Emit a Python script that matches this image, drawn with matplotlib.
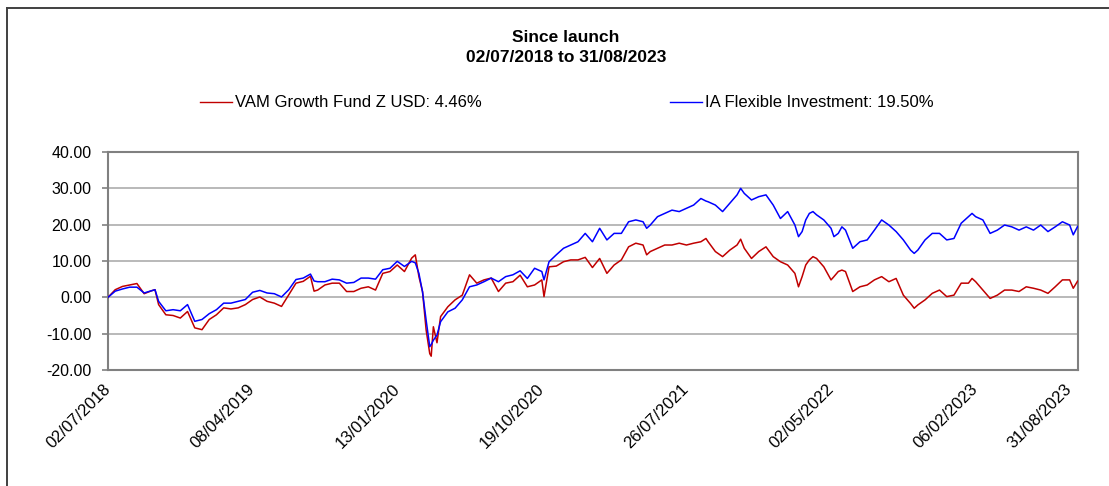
import matplotlib
matplotlib.use("Agg")
import matplotlib.pyplot as plt
from matplotlib.lines import Line2D
from matplotlib.ticker import FormatStrFormatter

plt.rcParams['font.family'] = ['Liberation Sans', 'DejaVu Sans']

# trading-day index since launch (02/07/2018)
days = [0, 10, 20, 30, 40, 50, 60, 65, 70, 80, 90, 100, 110, 120, 130, 140, 150, 160, 170, 180,
        190, 200, 210, 220, 230, 240, 250, 260, 270, 280, 285, 290, 300, 310, 320, 330, 340, 350, 360, 370,
        380, 390, 400, 410, 420, 425, 430, 435, 440, 445, 447, 450, 455, 460, 470, 480, 490, 500, 510, 520,
        530, 540, 550, 560, 570, 580, 590, 600, 603, 610, 620, 630, 640, 650, 660, 670, 680, 690, 700, 710,
        720, 730, 740, 745, 750, 760, 770, 780, 790, 800, 810, 820, 827, 830, 840, 850, 860, 870, 875, 880,
        890, 900, 910, 920, 930, 940, 950, 955, 960, 965, 970, 975, 980, 990, 1000, 1004, 1010, 1015, 1020, 1030,
        1040, 1050, 1060, 1070, 1080, 1090, 1100, 1110, 1115, 1120, 1130, 1140, 1150, 1160, 1170, 1180, 1190, 1195, 1200, 1210,
        1220, 1230, 1240, 1250, 1260, 1270, 1280, 1290, 1300, 1310, 1320, 1330, 1335, 1341]

ia_flex = [0.0, 1.7, 2.3, 2.8, 2.8, 1.2, 1.8, 2.1, -1.1, -3.7, -3.4, -3.7, -2.0, -6.6, -6.1, -4.5, -3.4, -1.6, -1.6, -1.1,
           -0.6, 1.4, 1.9, 1.2, 1.0, 0.1, 2.1, 4.9, 5.3, 6.4, 4.5, 4.3, 4.3, 5.0, 4.8, 3.9, 4.1, 5.3, 5.3, 5.0,
           7.6, 8.0, 9.9, 8.5, 9.9, 9.5, 6.6, 1.5, -6.3, -13.6, -13.0, -11.8, -10.4, -6.7, -4.0, -3.0, -0.7, 2.9, 3.4, 4.3,
           5.3, 4.3, 5.7, 6.2, 7.3, 5.2, 8.0, 7.1, 4.8, 9.8, 11.7, 13.5, 14.4, 15.3, 17.6, 15.3, 19.0, 15.8, 17.6, 17.6,
           20.8, 21.3, 20.8, 19.0, 19.9, 22.2, 23.1, 24.0, 23.6, 24.5, 25.4, 27.2, 26.5, 26.3, 25.4, 23.6, 25.9, 28.2, 30.0, 28.6,
           26.8, 27.7, 28.2, 25.4, 21.7, 23.6, 19.9, 16.7, 18.1, 21.3, 23.1, 23.6, 22.7, 21.3, 19.0, 16.7, 17.6, 19.4, 18.5, 13.5,
           15.3, 15.8, 18.5, 21.3, 19.9, 18.1, 15.8, 13.0, 12.1, 13.0, 15.8, 17.6, 17.6, 15.8, 16.2, 20.4, 22.2, 23.1, 22.2, 21.3,
           17.6, 18.5, 19.9, 19.4, 18.5, 19.4, 18.5, 19.9, 18.1, 19.4, 20.8, 19.9, 17.2, 19.5]

vam_z = [0.0, 2.1, 3.0, 3.4, 3.8, 1.0, 1.8, 2.1, -2.0, -4.8, -5.0, -5.7, -3.9, -8.4, -8.9, -6.1, -4.8, -2.9, -3.2, -2.9,
         -2.0, -0.6, 0.1, -1.1, -1.6, -2.5, 0.7, 3.9, 4.4, 5.8, 1.7, 2.0, 3.4, 3.9, 3.9, 1.6, 1.6, 2.5, 2.9, 2.0,
         6.6, 7.1, 8.9, 7.1, 10.8, 11.7, 5.7, 1.6, -9.0, -15.5, -16.2, -8.1, -12.5, -5.3, -2.6, -0.7, 0.6, 6.2, 3.9, 4.8,
         5.3, 1.6, 3.9, 4.3, 6.1, 2.9, 3.4, 4.8, 0.2, 8.4, 8.6, 9.8, 10.3, 10.3, 11.0, 8.2, 10.7, 6.6, 8.9, 10.3,
         13.9, 14.9, 14.4, 11.7, 12.6, 13.5, 14.4, 14.4, 14.9, 14.4, 14.9, 15.3, 16.2, 15.3, 12.6, 11.2, 13.0, 14.4, 16.0, 13.5,
         10.7, 12.6, 13.9, 11.2, 9.8, 8.9, 6.6, 2.9, 5.7, 8.9, 10.3, 11.2, 10.7, 8.4, 4.8, 5.7, 7.1, 7.5, 7.1, 1.6,
         2.9, 3.4, 4.8, 5.7, 4.3, 5.2, 0.6, -1.7, -3.0, -2.1, -0.7, 1.1, 2.0, 0.2, 0.6, 3.9, 3.9, 5.2, 4.3, 2.0,
         -0.3, 0.6, 2.0, 2.0, 1.6, 2.9, 2.5, 2.0, 1.1, 2.9, 4.8, 4.8, 2.5, 4.46]

tick_days = [0, 200, 400, 600, 800, 1000, 1200, 1330]
tick_labels = ['02/07/2018', '08/04/2019', '13/01/2020', '19/10/2020',
               '26/07/2021', '02/05/2022', '06/02/2023', '31/08/2023']

W, H = 1109, 486
fig = plt.figure(figsize=(W / 100, H / 100), dpi=100)
ax = fig.add_axes([108 / W, (H - 370) / H, 969.6 / W, 218 / H])

ax.plot(days, vam_z, color='#C00000', lw=1.1, zorder=3)
ax.plot(days, ia_flex, color='#0000FF', lw=1.1, zorder=4)

ax.set_xlim(0, 1341)
ax.set_ylim(-20, 40)
ax.set_yticks(range(-20, 41, 10))
ax.yaxis.set_major_formatter(FormatStrFormatter('%.2f'))
ax.set_xticks(tick_days)
ax.set_xticklabels(tick_labels, rotation=45, ha='right', va='center', rotation_mode='anchor')
ax.grid(axis='y', color='#A6A6A6', lw=1.1)
ax.set_axisbelow(True)
for s in ax.spines.values():
    s.set_color('#808080')
    s.set_linewidth(1.5)
ax.tick_params(axis='y', direction='out', length=4, width=1.2, color='#808080', pad=8, labelsize=11.5)
ax.tick_params(axis='x', direction='out', length=0, pad=12, labelsize=12)

# titles
fig.text(566 / W, 1 - 37 / H, 'Since launch', ha='center', va='center', fontsize=12.5, fontweight='bold')
fig.text(566 / W, 1 - 58 / H, '02/07/2018 to 31/08/2023', ha='center', va='center', fontsize=12.5, fontweight='bold')

# legend drawn by hand
ly = 1 - 102 / H
fig.add_artist(Line2D([200 / W, 232 / W], [ly, ly], color='#C00000', lw=1.0))
fig.text(235 / W, ly, 'VAM Growth Fund Z USD: 4.46%', ha='left', va='center', fontsize=12)
fig.add_artist(Line2D([670 / W, 702 / W], [ly, ly], color='#0000FF', lw=1.0))
fig.text(705 / W, ly, 'IA Flexible Investment: 19.50%', ha='left', va='center', fontsize=12)

# outer chart border
bx, by = 7.3 / W, 1 - 8.5 / H
fig.add_artist(Line2D([bx, bx], [0, by], color='#404040', lw=1.4))
fig.add_artist(Line2D([bx, 1], [by, by], color='#404040', lw=1.4))

fig.savefig('out.png', dpi=100, facecolor='white')
